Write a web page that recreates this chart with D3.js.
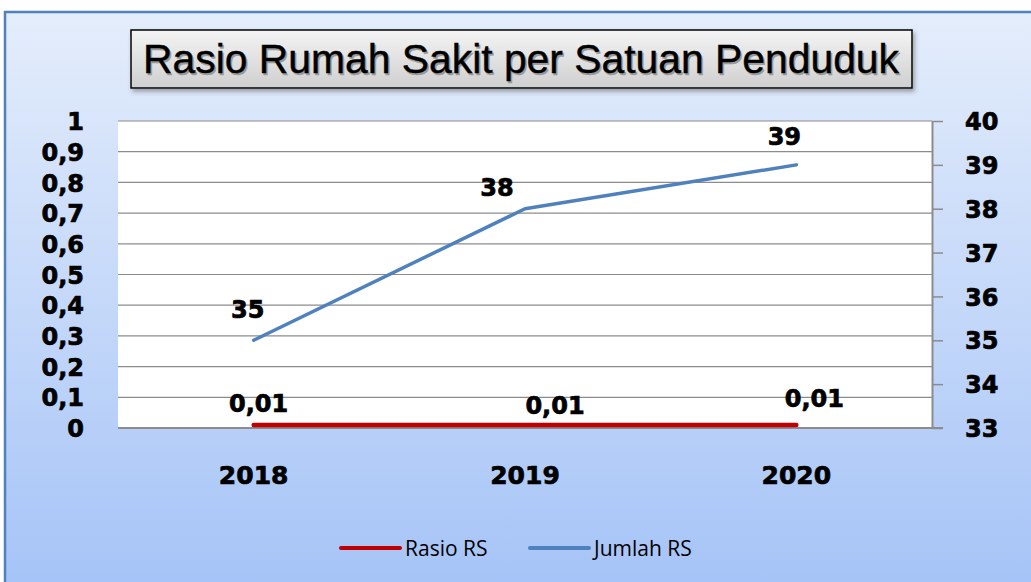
<!DOCTYPE html>
<html>
<head>
<meta charset="utf-8">
<script src="https://cdn.jsdelivr.net/npm/d3@7"></script>
<style>
  html, body { margin: 0; padding: 0; background: #fff; }
  svg { display: block; }
</style>
</head>
<body>
<script>
// Data
const years = ["2018", "2019", "2020"];
const rasioRS = [0.01, 0.01, 0.01];
const jumlahRS = [35, 38, 39];
const rasioLabels = ["0,01", "0,01", "0,01"];
const leftTicks = [0, 0.1, 0.2, 0.3, 0.4, 0.5, 0.6, 0.7, 0.8, 0.9, 1];
const rightTicks = [33, 34, 35, 36, 37, 38, 39, 40];
const seriesNames = ["Rasio RS", "Jumlah RS"];
const seriesColors = ["#c00000", "#4f81bd"];

const W = 1031, H = 582;
const plot = { left: 118, right: 932, top: 121, bottom: 428 };
const tickFont = "'DejaVu Sans', sans-serif";

const svg = d3.select("body").append("svg").attr("width", W).attr("height", H);
const defs = svg.append("defs");

// heavy black labels, a bit thicker than plain bold
function heavy(sel, size) {
  sel.attr("font-family", tickFont).attr("font-weight", "bold").attr("font-size", size)
    .attr("fill", "#000").attr("stroke", "#000").attr("stroke-width", 0.7);
}

// Chart background: pale blue gradient inside a blue frame
const bg = defs.append("linearGradient").attr("id", "bg").attr("x1", 0).attr("y1", 0).attr("x2", 0).attr("y2", 1);
bg.append("stop").attr("offset", "0%").attr("stop-color", "#e4edfb");
bg.append("stop").attr("offset", "100%").attr("stop-color", "#a5c3f7");
svg.append("rect").attr("x", 0).attr("y", 0).attr("width", W).attr("height", H).attr("fill", "#fff");
svg.append("rect").attr("x", 5).attr("y", 12).attr("width", W + 10).attr("height", H)
  .attr("fill", "url(#bg)").attr("stroke", "#4f81bd").attr("stroke-width", 2.5);

// Scales
const x = d3.scaleBand().domain(years).range([plot.left, plot.right]);
const yL = d3.scaleLinear().domain([0, 1]).range([plot.bottom, plot.top]);
const yR = d3.scaleLinear().domain([33, 40]).range([plot.bottom, plot.top]);
const cx = (d) => x(d) + x.bandwidth() / 2;

// Plot area
svg.append("rect").attr("x", plot.left).attr("y", plot.top)
  .attr("width", plot.right - plot.left).attr("height", plot.bottom - plot.top).attr("fill", "#fff");

// Gridlines from left axis ticks
svg.append("g").selectAll("line").data(leftTicks.slice(1)).join("line")
  .attr("x1", plot.left).attr("x2", plot.right)
  .attr("y1", (d) => yL(d)).attr("y2", (d) => yL(d))
  .attr("stroke", "#8c8c8c").attr("stroke-width", 1.2);

// Left axis (labels only)
const gl = svg.append("g").attr("transform", `translate(${plot.left},0)`)
  .call(d3.axisLeft(yL).tickValues(leftTicks).tickSize(0).tickPadding(34)
    .tickFormat((d) => (d === 0 || d === 1 ? d3.format("d")(d) : d3.format(".1f")(d).replace(".", ","))));
gl.select(".domain").remove();
gl.selectAll("text").call(heavy, 24).attr("dy", "0.36em");

// Right axis with outward ticks
const gr = svg.append("g").attr("transform", `translate(${plot.right},0)`)
  .call(d3.axisRight(yR).tickValues(rightTicks).tickSize(11).tickPadding(22).tickSizeOuter(0)
    .tickFormat(d3.format("d")));
gr.select(".domain").attr("stroke", "#8c8c8c").attr("stroke-width", 2);
gr.selectAll(".tick line").attr("stroke", "#8c8c8c").attr("stroke-width", 1.5);
gr.selectAll("text").call(heavy, 24).attr("dy", "0.36em");

// Bottom axis line + category labels
svg.append("line").attr("x1", plot.left).attr("x2", plot.right + 11)
  .attr("y1", plot.bottom).attr("y2", plot.bottom).attr("stroke", "#8c8c8c").attr("stroke-width", 2);
const gb = svg.append("g").attr("transform", `translate(0,${plot.bottom})`)
  .call(d3.axisBottom(x).tickSize(0).tickPadding(38));
gb.select(".domain").remove();
gb.selectAll("text").call(heavy, 25);

// Jumlah RS line (right axis)
svg.append("path").datum(jumlahRS)
  .attr("d", d3.line().x((d, i) => cx(years[i])).y((d) => yR(d)))
  .attr("fill", "none").attr("stroke", seriesColors[1]).attr("stroke-width", 3.5)
  .attr("stroke-linecap", "round").attr("stroke-linejoin", "round");

// Rasio RS line (left axis)
svg.append("path").datum(rasioRS)
  .attr("d", d3.line().x((d, i) => cx(years[i])).y((d) => yL(d)))
  .attr("fill", "none").attr("stroke", seriesColors[0]).attr("stroke-width", 4.5)
  .attr("stroke-linecap", "round");

// Data labels
const jumlahOffsets = [[-6, -22], [-28, -13], [-12, -20]];
svg.append("g").selectAll("text").data(jumlahRS).join("text")
  .attr("x", (d, i) => cx(years[i]) + jumlahOffsets[i][0])
  .attr("y", (d, i) => yR(d) + jumlahOffsets[i][1])
  .attr("text-anchor", "middle").call(heavy, 24).text((d) => d);

const rasioOffsets = [[5, -13], [30, -11], [18, -18]];
svg.append("g").selectAll("text").data(rasioRS).join("text")
  .attr("x", (d, i) => cx(years[i]) + rasioOffsets[i][0])
  .attr("y", (d, i) => yL(d) + rasioOffsets[i][1])
  .attr("text-anchor", "middle").call(heavy, 24).text((d, i) => rasioLabels[i]);

// Title box
const tg = defs.append("linearGradient").attr("id", "tg").attr("x1", 0).attr("y1", 0).attr("x2", 0).attr("y2", 1);
tg.append("stop").attr("offset", "0%").attr("stop-color", "#f4f4f4");
tg.append("stop").attr("offset", "100%").attr("stop-color", "#cfcfcf");
const sh = defs.append("filter").attr("id", "sh").attr("x", "-5%").attr("y", "-20%").attr("width", "110%").attr("height", "150%");
sh.append("feDropShadow").attr("dx", 2).attr("dy", 3).attr("stdDeviation", 2).attr("flood-color", "#555").attr("flood-opacity", 0.5);
svg.append("rect").attr("x", 131).attr("y", 30).attr("width", 781).attr("height", 58)
  .attr("fill", "url(#tg)").attr("stroke", "#000").attr("stroke-width", 1.5).attr("filter", "url(#sh)");
const title = "Rasio Rumah Sakit per Satuan Penduduk";
[["#999", 1.5, 1.5], ["#000", 0, 0]].forEach(([c, dx, dy]) => {
  svg.append("text").attr("x", 521 + dx).attr("y", 73 + dy).attr("text-anchor", "middle")
    .attr("font-family", "'Liberation Sans', sans-serif").attr("font-size", 40)
    .attr("textLength", 756).attr("lengthAdjust", "spacingAndGlyphs")
    .attr("fill", c).attr("stroke", c).attr("stroke-width", 0.4).text(title);
});

// Legend
const legendX = [341, 530];
const lg = svg.append("g").selectAll("g").data(seriesNames).join("g")
  .attr("transform", (d, i) => `translate(${legendX[i]},548)`);
lg.append("line").attr("x1", 0).attr("x2", 59).attr("y1", 0).attr("y2", 0)
  .attr("stroke", (d, i) => seriesColors[i]).attr("stroke-width", 4).attr("stroke-linecap", "round");
lg.append("text").attr("x", 64).attr("y", 8).attr("font-family", "'Open Sans', sans-serif")
  .attr("font-size", 21).attr("fill", "#000").text((d) => d);
</script>
</body>
</html>
